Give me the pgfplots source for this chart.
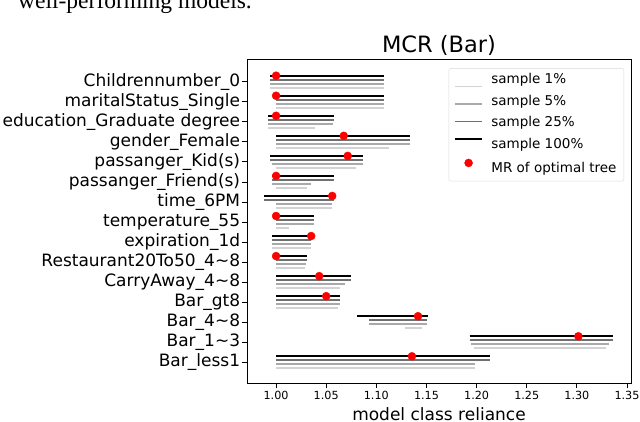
\documentclass[border=0pt]{standalone}
\usepackage{fontspec}
\setmainfont{DejaVu Sans}
\newfontfamily\serifmain{Liberation Serif}
\usepackage{pgfplots}
\pgfplotsset{compat=1.18}
\definecolor{s1}{HTML}{D3D3D3}
\definecolor{s5}{HTML}{A9A9A9}
\definecolor{s25}{HTML}{707070}
\begin{document}
\begin{tikzpicture}
\node[anchor=base west, inner sep=0pt, font=\serifmain\fontsize{23.5bp}{28bp}\selectfont] at (18bp,413.5bp) {well-performing models.};
\begin{axis}[
  at={(247bp,39bp)}, anchor=south west,
  scale only axis, width=384bp, height=323.5bp,
  xmin=0.971, xmax=1.354, ymin=-1.033, ymax=15.108,
  unbounded coords=jump,
  axis line style={line width=0.8bp},
  tick style={black, line width=0.8bp},
  major tick length=5bp, tick align=outside, tick pos=left,
  xtick={1,1.05,1.1,1.15,1.2,1.25,1.3,1.35},
  xticklabel style={/pgf/number format/fixed, /pgf/number format/fixed zerofill,
    /pgf/number format/precision=2, /pgf/number format/assume math mode=true,
    font=\fontsize{11.2bp}{13bp}\selectfont},
  ytick={0,...,14},
  yticklabels={Bar\_less1, Bar\_1\textasciitilde3, Bar\_4\textasciitilde8, Bar\_gt8,
    CarryAway\_4\textasciitilde8, Restaurant20To50\_4\textasciitilde8, expiration\_1d,
    temperature\_55, time\_6PM, passanger\_Friend(s), passanger\_Kid(s),
    gender\_Female, education\_Graduate degree, maritalStatus\_Single, Childrennumber\_0},
  yticklabel style={font=\fontsize{17bp}{20bp}\selectfont, inner xsep=1.7bp},
  xlabel={model class reliance},
  every axis x label/.style={font=\fontsize{17bp}{20bp}\selectfont, inner sep=0pt,
    at={(axis description cs:0.5,-0.1144)}, anchor=base},
  title={MCR (Bar)},
  every axis title/.style={font=\fontsize{22.5bp}{26bp}\selectfont, inner sep=0pt,
    at={(axis description cs:0.5,1)}, anchor=base, yshift=7.2bp},
  legend image code/.code={\draw[mark repeat=2,mark phase=2,#1] plot coordinates {(0bp,0bp) (13.5bp,0bp) (27bp,0bp)};},
  legend cell align=left,
  legend style={at={(0.982,0.973)}, anchor=north east, draw=black!15, rounded corners=2bp,
    font=\fontsize{13.5bp}{16bp}\selectfont, row sep=6bp, column sep=6.5bp,
    inner xsep=5.4bp, inner ysep=4.5bp,
    nodes={text height=10bp, text depth=3.5bp, inner ysep=1bp}},
]
% sample 1%
\addplot[s1, line width=1.6bp, yshift=-6bp] coordinates {
  (0.994,14) (1.108,14) (nan,nan)
  (1.000,13) (1.108,13) (nan,nan)
  (0.992,12) (1.039,12) (nan,nan)
  (1.000,11) (1.113,11) (nan,nan)
  (1.000,10) (1.080,10) (nan,nan)
  (1.000,9) (1.031,9) (nan,nan)
  (1.000,8) (1.0555,8) (nan,nan)
  (1.000,7) (1.013,7) (nan,nan)
  (0.996,6) (1.035,6) (nan,nan)
  (1.000,5) (1.029,5) (nan,nan)
  (1.000,4) (1.0638,4) (nan,nan)
  (1.000,3) (1.0615,3) (nan,nan)
  (1.129,2) (1.146,2) (nan,nan)
  (1.197,1) (1.329,1) (nan,nan)
  (1.000,0) (1.1987,0)
};
\addlegendentry{sample 1\%}
% sample 5%
\addplot[s5, line width=1.6bp, yshift=-2bp] coordinates {
  (0.994,14) (1.108,14) (nan,nan)
  (1.000,13) (1.108,13) (nan,nan)
  (0.992,12) (1.0565,12) (nan,nan)
  (1.000,11) (1.134,11) (nan,nan)
  (0.996,10) (1.087,10) (nan,nan)
  (0.996,9) (1.035,9) (nan,nan)
  (1.000,8) (1.0555,8) (nan,nan)
  (1.000,7) (1.0375,7) (nan,nan)
  (0.996,6) (1.035,6) (nan,nan)
  (1.000,5) (1.030,5) (nan,nan)
  (1.000,4) (1.0688,4) (nan,nan)
  (1.000,3) (1.0638,3) (nan,nan)
  (1.093,2) (1.151,2) (nan,nan)
  (1.194,1) (1.332,1) (nan,nan)
  (1.000,0) (1.1987,0)
};
\addlegendentry{sample 5\%}
% sample 25%
\addplot[s25, line width=1.6bp, yshift=2bp] coordinates {
  (0.994,14) (1.108,14) (nan,nan)
  (1.000,13) (1.108,13) (nan,nan)
  (0.992,12) (1.0575,12) (nan,nan)
  (1.000,11) (1.134,11) (nan,nan)
  (0.994,10) (1.087,10) (nan,nan)
  (0.996,9) (1.0575,9) (nan,nan)
  (0.988,8) (1.058,8) (nan,nan)
  (1.000,7) (1.0375,7) (nan,nan)
  (0.996,6) (1.035,6) (nan,nan)
  (1.000,5) (1.0306,5) (nan,nan)
  (1.000,4) (1.0745,4) (nan,nan)
  (1.000,3) (1.0638,3) (nan,nan)
  (1.093,2) (1.151,2) (nan,nan)
  (1.193,1) (1.336,1) (nan,nan)
  (1.000,0) (1.2133,0)
};
\addlegendentry{sample 25\%}
% sample 100%
\addplot[black, line width=1.6bp, yshift=6bp] coordinates {
  (0.994,14) (1.108,14) (nan,nan)
  (1.000,13) (1.108,13) (nan,nan)
  (0.992,12) (1.0575,12) (nan,nan)
  (1.000,11) (1.134,11) (nan,nan)
  (0.994,10) (1.087,10) (nan,nan)
  (0.996,9) (1.0575,9) (nan,nan)
  (0.988,8) (1.058,8) (nan,nan)
  (1.000,7) (1.0375,7) (nan,nan)
  (0.996,6) (1.035,6) (nan,nan)
  (1.000,5) (1.0306,5) (nan,nan)
  (1.000,4) (1.0745,4) (nan,nan)
  (1.000,3) (1.0638,3) (nan,nan)
  (1.081,2) (1.152,2) (nan,nan)
  (1.193,1) (1.336,1) (nan,nan)
  (1.000,0) (1.2133,0)
};
\addlegendentry{sample 100\%}
% MR of optimal tree
\addplot[only marks, mark=*, mark size=4bp, red, mark options={draw=red, fill=red}, yshift=6bp] coordinates {
  (1.000,14) (1.000,13) (1.000,12) (1.0675,11) (1.0715,10) (1.000,9) (1.056,8)
  (1.000,7) (1.035,6) (1.000,5) (1.043,4) (1.050,3) (1.1416,2) (1.3015,1) (1.1355,0)
};
\addlegendentry{MR of optimal tree}
\end{axis}
\pgfresetboundingbox
\path[use as bounding box] (0,0) rectangle (640bp,422bp);
\end{tikzpicture}
\end{document}
